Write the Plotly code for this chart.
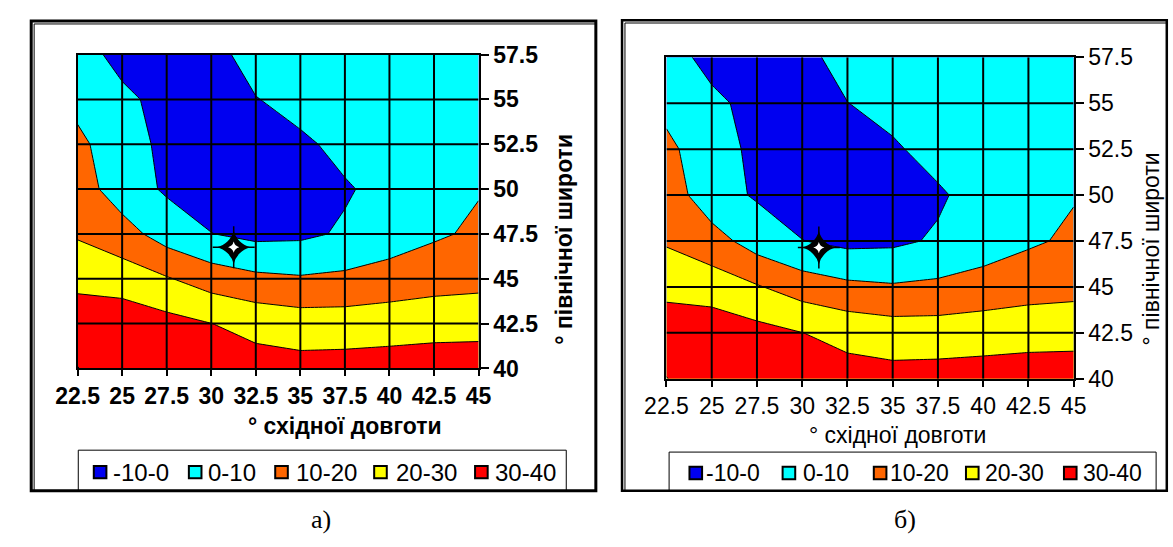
import plotly.graph_objects as go

# ---------------------------------------------------------------- data
LON = [22.5, 25, 27.5, 30, 32.5, 35, 37.5, 40, 42.5, 45]
LAT = [40, 42.5, 45, 47.5, 50, 52.5, 55, 57.5]
LON_LABELS = ["22.5", "25", "27.5", "30", "32.5", "35", "37.5", "40", "42.5", "45"]
LAT_LABELS = ["40", "42.5", "45", "47.5", "50", "52.5", "55", "57.5"]

# field values, rows follow LAT (south -> north), columns follow LON
Z_A = [
    [29.7, 38.0, 38.0, 37.0, 33.95, 33.35, 33.87, 35.1, 35.1, 35.4],
    [36.0, 36.4, 33.2, 30.1, 26.9, 24.98, 24.83, 24.8, 26.2, 26.4],
    [27.0, 25.0, 20.8, 15.3, 12.18, 10.98, 11.99, 14.8, 16.0, 17.0],
    [18.94, 14.13, 5.46, 0.2, -2.52, -1.91, 1.17, 4.0, 8.65, 11.58],
    [14.85, 4.83, -1.23, -5.0, -6.0, -3.0, -0.93, 2.88, 5.0, 9.45],
    [12.5, 3.5, -1.87, -6.0, -5.0, -1.79, 2.69, 5.0, 5.5, 8.0],
    [6.87, 2.0, -2.9, -5.0, -0.4, 3.6, 5.0, 6.0, 6.0, 8.0],
    [4.0, -3.0, -3.5, -4.0, 4.86, 6.0, 6.5, 7.0, 7.0, 8.0],
]
Z_B = [
    [29.7, 38.0, 38.0, 37.0, 33.95, 33.35, 33.87, 35.1, 35.1, 35.4],
    [36.0, 36.4, 33.2, 30.1, 26.9, 24.98, 24.83, 24.8, 26.2, 26.4],
    [27.0, 25.0, 20.8, 15.3, 12.18, 10.98, 11.99, 14.8, 16.0, 17.0],
    [18.94, 14.13, 5.46, 0.2, -2.52, -1.91, 1.17, 4.0, 8.65, 11.58],
    [15.7, 3.8, -1.0, -5.0, -6.0, -3.0, -1.31, 3.97, 5.0, 9.45],
    [12.5, 3.5, -1.87, -6.0, -5.0, -1.31, 3.58, 5.0, 5.5, 8.0],
    [6.87, 2.0, -2.9, -5.0, -0.14, 3.37, 5.0, 6.0, 6.0, 8.0],
    [4.0, -3.0, -3.5, -3.0, 4.0, 6.0, 6.5, 7.0, 7.0, 8.0],
]

STAR_A_LON, STAR_A_LAT = [31.26], [46.76]
STAR_B_LON, STAR_B_LAT = [30.92], [47.14]

LEVELS = [0, 10, 20, 30]
BAND_LABELS = ["-10-0", "0-10", "10-20", "20-30", "30-40"]
BAND_COLORS = ["#0000F0", "#00FFFF", "#FF6600", "#FFFF00", "#FF0000"]

X_TITLE = "° східної довготи"
Y_TITLE = "° північної широти"

# ---------------------------------------------------------------- layout helpers
W, H = 1173, 547
SANS = "Liberation Sans, Arial, sans-serif"
SERIF = "Liberation Serif, Times New Roman, serif"


def fx(px):
    return px / W


def fy(py):
    return 1 - py / H


# stepped colour scale: one flat colour per band
colorscale = []
edges = [0, 0.125, 0.375, 0.625, 0.875, 1]
for i, c in enumerate(BAND_COLORS):
    colorscale.append([edges[i], c])
    colorscale.append([edges[i + 1], c])

PANELS = [
    dict(z=Z_A, star=(STAR_A_LON, STAR_A_LAT), plot=(57.3, 43.6, 470.6, 373.2),
         weight="bold", tick=23, frame=(9.5, 8.5, 591.5, 501.5),
         xtitle=(333, 434), ytitle=(558.6, 237),
         legbox=(58, 459, 561, 502), leg_y=482, leg_font=24,
         leg_sq=[74, 172, 261, 363, 467], leg_tx=[92, 190, 280, 383, 485],
         caption="а)", cap=(308, 532)),
    dict(z=Z_B, star=(STAR_B_LON, STAR_B_LAT), plot=(664.3, 46.5, 1084.0, 384.0),
         weight="normal", tick=23, frame=(618.5, 7.5, 1180, 501.5),
         xtitle=(902, 443), ytitle=(1164, 248),
         legbox=(667, 461, 1169, 502), leg_y=483, leg_font=23,
         leg_sq=[688, 784, 878, 973, 1074], leg_tx=[703, 803, 893, 991, 1092],
         caption="б)", cap=(910, 532)),
]

fig = go.Figure()
shapes = []
annotations = []

for i, p in enumerate(PANELS):
    sfx = "" if i == 0 else "2"
    xa, ya = "x" + sfx, "y" + sfx

    fig.add_trace(go.Contour(
        x=LON, y=LAT, z=p["z"], xaxis=xa, yaxis=ya,
        contours=dict(start=LEVELS[0], end=LEVELS[-1], size=LEVELS[1] - LEVELS[0],
                      coloring="fill", showlines=True),
        colorscale=colorscale, line=dict(color="black", width=1, smoothing=0),
        showscale=False, hoverinfo="skip",
    ))

    # four-pointed star: tapered body, thin spike tips and a white glint
    slon, slat = p["star"]
    for sym, size, color, lw in [
        ("star-diamond", 24, "black", 0),
        ("cross-thin", 30, "black", 1.5),
        ("star-diamond", 8, "white", 0),
    ]:
        fig.add_trace(go.Scatter(
            x=slon, y=slat, xaxis=xa, yaxis=ya, mode="markers", showlegend=False,
            marker=dict(symbol=sym, size=size, color=color,
                        line=dict(width=lw, color=color)),
            hoverinfo="skip",
        ))

    x0, y0, x1, y1 = p["plot"]
    tickfont = dict(family=SANS, size=p["tick"], color="black", weight=p["weight"])
    fig.update_layout({
        "xaxis" + sfx: dict(
            domain=[fx(x0), fx(x1)], range=[LON[0], LON[-1]], anchor=ya,
            tickvals=LON, ticktext=LON_LABELS, ticks="outside", ticklen=6,
            tickwidth=2, tickcolor="black", showgrid=False, zeroline=False,
            showline=True, linecolor="black", linewidth=2, mirror=True,
            tickfont=tickfont, fixedrange=True),
        "yaxis" + sfx: dict(
            domain=[fy(y1), fy(y0)], range=[LAT[0], LAT[-1]], anchor=xa, side="right",
            tickvals=LAT, ticktext=LAT_LABELS, ticks="outside", ticklen=8,
            tickwidth=2, tickcolor="black", showgrid=False, zeroline=False,
            showline=True, linecolor="black", linewidth=2, mirror=True,
            tickfont=tickfont, fixedrange=True),
    })

    # grid drawn over the filled bands
    for v in LON[1:-1]:
        shapes.append(dict(type="line", xref=xa, yref=ya, x0=v, x1=v, y0=LAT[0], y1=LAT[-1],
                           line=dict(color="black", width=2), layer="above"))
    for v in LAT[1:-1]:
        shapes.append(dict(type="line", xref=xa, yref=ya, x0=LON[0], x1=LON[-1], y0=v, y1=v,
                           line=dict(color="black", width=2), layer="above"))

    # chart frame (double line on the left and top)
    fx0, fy0, fx1, fy1 = p["frame"]
    shapes.append(dict(type="rect", xref="paper", yref="paper",
                       x0=fx(fx0), x1=fx(fx1), y0=fy(fy1), y1=fy(fy0),
                       line=dict(color="black", width=3 if i == 0 else 2.5)))
    shapes.append(dict(type="line", xref="paper", yref="paper",
                       x0=fx(fx0 + 3), x1=fx(fx0 + 3), y0=fy(fy1), y1=fy(fy0 + 3),
                       line=dict(color="black", width=1)))
    shapes.append(dict(type="line", xref="paper", yref="paper",
                       x0=fx(fx0 + 3), x1=fx(fx1), y0=fy(fy0 + 3), y1=fy(fy0 + 3),
                       line=dict(color="black", width=1)))

    # axis titles
    tfont = dict(family=SANS, size=23, color="black", weight=p["weight"])
    annotations.append(dict(text=X_TITLE, xref="paper", yref="paper",
                            x=fx(p["xtitle"][0]), y=fy(p["xtitle"][1]),
                            xanchor="center", yanchor="middle", showarrow=False, font=tfont))
    annotations.append(dict(text=Y_TITLE, xref="paper", yref="paper", textangle=-90,
                            x=fx(p["ytitle"][0]), y=fy(p["ytitle"][1]),
                            xanchor="center", yanchor="middle", showarrow=False, font=tfont))

    # legend box with one swatch per band
    lx0, ly0, lx1, ly1 = p["legbox"]
    shapes.append(dict(type="rect", xref="paper", yref="paper",
                       x0=fx(lx0), x1=fx(lx1), y0=fy(ly1), y1=fy(ly0),
                       line=dict(color="black", width=1)))
    cy = p["leg_y"]
    for label, color, sx, tx in zip(BAND_LABELS, BAND_COLORS, p["leg_sq"], p["leg_tx"]):
        shapes.append(dict(type="rect", xref="paper", yref="paper",
                           x0=fx(sx), x1=fx(sx + 13), y0=fy(cy + 6.5), y1=fy(cy - 6.5),
                           fillcolor=color, line=dict(color="black", width=2)))
        annotations.append(dict(text=label, xref="paper", yref="paper",
                                x=fx(tx), y=fy(cy), xanchor="left", yanchor="middle",
                                showarrow=False,
                                font=dict(family=SANS, size=p["leg_font"], color="black")))

    annotations.append(dict(text=p["caption"], xref="paper", yref="paper",
                            x=fx(p["cap"][0]), y=fy(p["cap"][1]),
                            xanchor="center", yanchor="middle", showarrow=False,
                            font=dict(family=SERIF, size=26, color="black")))

fig.update_layout(
    width=W, height=H, autosize=False,
    margin=dict(l=0, r=0, t=0, b=0, pad=0),
    paper_bgcolor="white", plot_bgcolor="white",
    showlegend=False, shapes=shapes, annotations=annotations,
)

fig.write_html("out.html", config={"displayModeBar": False})
